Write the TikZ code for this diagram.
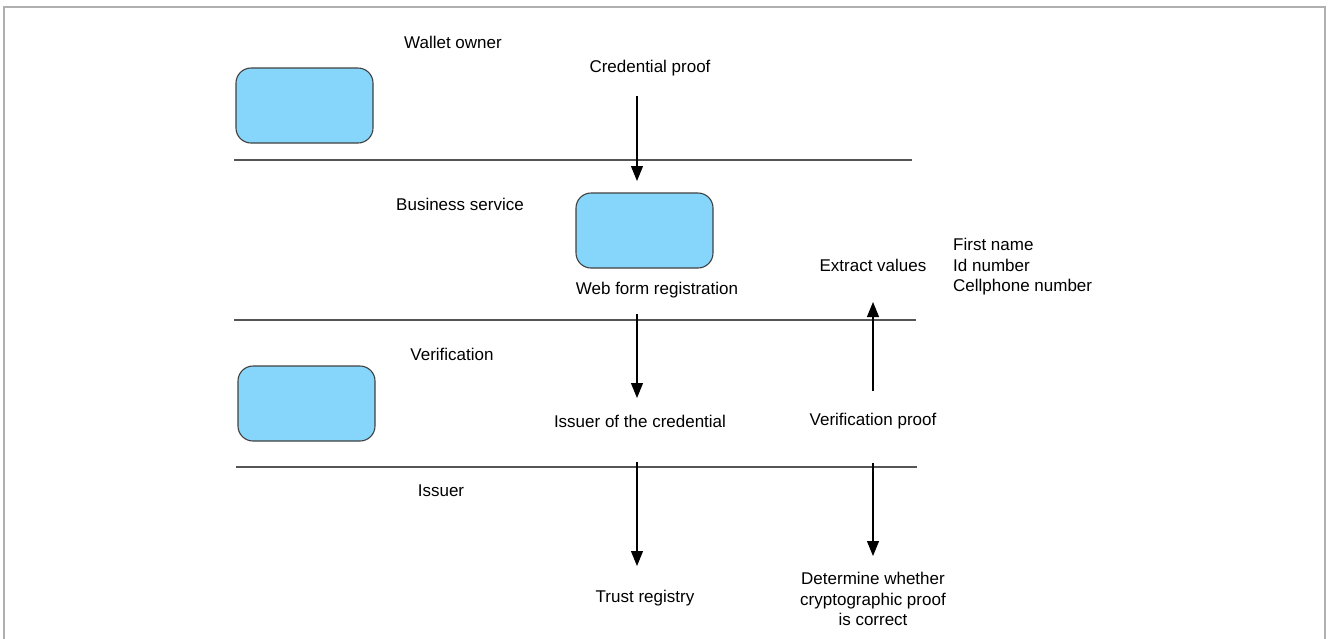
\documentclass[tikz,border=0pt]{standalone}
\usepackage{fontspec}
\setmainfont{Liberation Sans}
\usetikzlibrary{arrows.meta}
\definecolor{boxblue}{HTML}{86D6FC}
\definecolor{boxedge}{HTML}{404040}
\definecolor{sepline}{HTML}{555555}
\definecolor{framegray}{HTML}{B0B0B0}
\begin{document}
\begin{tikzpicture}[x=1pt,y=-1pt,
  lanebox/.style={draw=boxedge,line width=1.1pt,fill=boxblue,rounded corners=15pt},
  lbl/.style={font=\fontsize{17}{20.5}\selectfont,inner sep=0pt,align=center},
  sep/.style={draw=sepline,line width=1.4pt},
  flow/.style={draw=black,line width=1.1pt,-{Triangle[width=12pt,length=15pt]}},
  frame/.style={draw=framegray,line width=1.5pt}]
\useasboundingbox (0,0) rectangle (1328,638);
% outer frame
\draw[frame] (4,640) -- (4,7) -- (1325,7) -- (1325,640);
% boxes
\draw[lanebox] (236,68) rectangle (373,143);
\draw[lanebox] (576,193) rectangle (713,268);
\draw[lanebox] (238,366) rectangle (375,441);
% separators
\coordinate (s1a) at (234,160); \coordinate (s1b) at (912,160);
\coordinate (s2a) at (234,320); \coordinate (s2b) at (916,320);
\coordinate (s3a) at (236,467); \coordinate (s3b) at (917,467);
\draw[sep] (s1a) -- (s1b);
\draw[sep] (s2a) -- (s2b);
\draw[sep] (s3a) -- (s3b);
% labels
\node[lbl] (wallet) at (453,42) {Wallet owner};
\node[lbl] (cred) at (650,68) {Credential proof};
\node[lbl] (biz) at (460,204) {Business service};
\node[lbl] (web) at (657,290) {Web form registration};
\node[lbl] (extract) at (873,265) {Extract values};
\node[lbl,align=left,anchor=west] (fields) at (953,267) {First name\\Id number\\Cellphone number};
\node[lbl] (verif) at (452,354) {Verification};
\node[lbl] (issuerof) at (640,421) {Issuer of the credential};
\node[lbl] (vproof) at (873,421) {Verification proof};
\node[lbl] (issuer) at (441,491) {Issuer};
\node[lbl] (trust) at (645,598) {Trust registry};
\node[lbl,anchor=north] (determine) at (873,572) {Determine whether\\cryptographic proof\\is correct};
% arrows
\coordinate (a1s) at (637,96); \coordinate (a1e) at (637,181);
\coordinate (a2s) at (637,314); \coordinate (a2e) at (637,398);
\coordinate (a3s) at (873,391); \coordinate (a3e) at (873,302);
\coordinate (a4s) at (637,462); \coordinate (a4e) at (637,566);
\coordinate (a5s) at (873,463); \coordinate (a5e) at (873,556);
\draw[flow] (a1s) -- (a1e);
\draw[flow] (a2s) -- (a2e);
\draw[flow] (a3s) -- (a3e);
\draw[flow] (a4s) -- (a4e);
\draw[flow] (a5s) -- (a5e);
\end{tikzpicture}
\end{document}
